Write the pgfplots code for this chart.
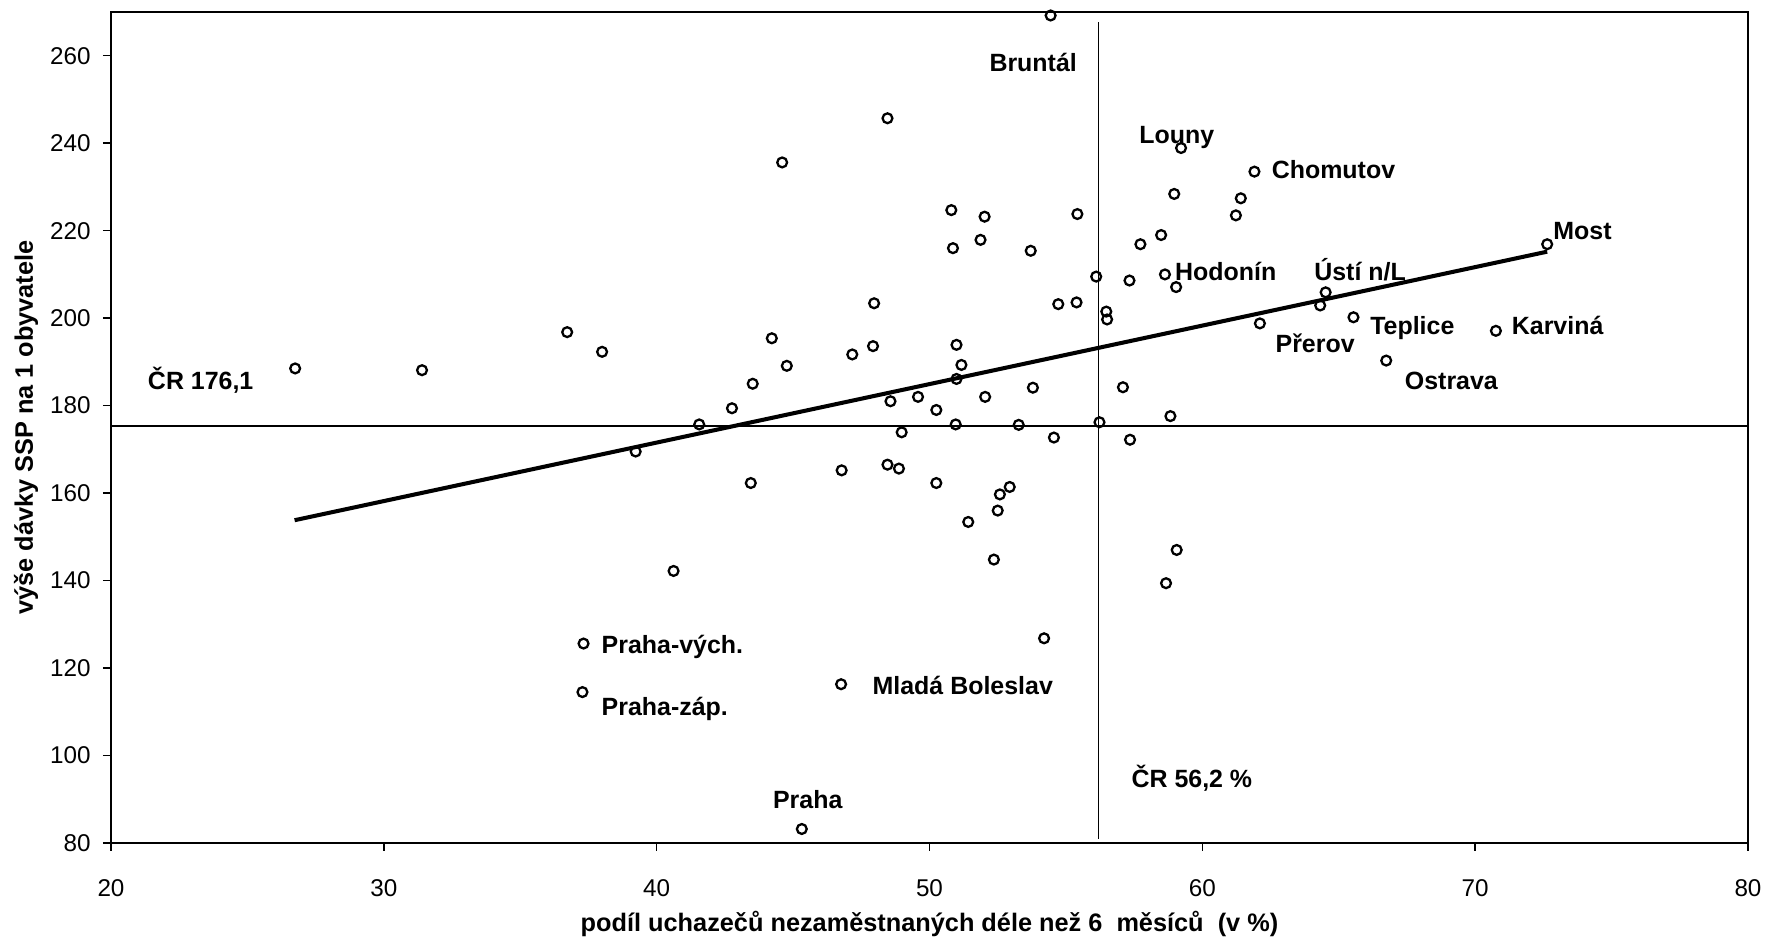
\documentclass[border=0pt]{standalone}
\usepackage{fontspec}
\setmainfont{Liberation Sans}
\usepackage{pgfplots}
\pgfplotsset{compat=1.18}
\usetikzlibrary{calc}

\pgfplotstableread{
x y
26.75 188.5
31.40 188.1
36.72 196.8
38.00 192.3
39.23 169.5
40.62 142.2
41.56 175.7
42.76 179.4
43.52 185.0
43.45 162.3
44.22 195.4
44.77 189.1
44.60 235.6
46.78 165.2
47.17 191.7
47.93 193.6
47.97 203.4
48.46 245.7
48.57 181.0
48.46 166.5
48.88 165.6
48.98 173.9
49.58 182.0
50.25 179.0
50.25 162.3
50.80 224.7
50.86 216.0
50.96 175.7
50.99 186.1
50.99 193.9
51.17 189.3
51.42 153.4
51.87 217.9
52.02 223.2
52.04 182.0
52.36 144.8
52.50 156.0
52.58 159.7
52.94 161.4
53.27 175.6
53.71 215.4
53.79 184.1
54.20 126.8
54.44 269.2
54.56 172.7
54.72 203.2
55.42 223.8
55.39 203.6
56.11 209.5
56.23 176.2
56.48 201.5
56.51 199.7
57.09 184.2
57.33 208.6
57.35 172.2
57.73 216.9
58.49 219.0
58.63 210.0
58.83 177.6
58.67 139.4
58.97 228.4
59.04 207.1
59.06 147.0
59.22 238.9
61.23 223.5
61.41 227.4
61.91 233.5
62.11 198.8
64.32 202.9
64.52 205.9
65.54 200.2
66.74 190.3
70.76 197.1
72.64 216.9
37.32 125.6
37.28 114.5
46.76 116.3
45.32 83.2
}\okresy

\begin{document}
\begin{tikzpicture}
\begin{axis}[
    scale only axis,
    width=163.7mm, height=83.1mm,
    xmin=20, xmax=80, ymin=80, ymax=270,
    xtick={20,30,...,80},
    ytick={80,100,...,260},
    tick pos=left,
    tick align=outside,
    major tick length=0.8mm,
    axis line style={line width=0.65pt},
    every tick/.style={black, line width=0.4pt},
    clip=false,
    /pgf/number format/assume math mode=true,
    ticklabel style={font=\fontsize{6.9}{8}\selectfont},
    xticklabel style={yshift=-1.6mm},
    xlabel={podíl uchazečů nezaměstnaných déle než 6\ \ měsíců\ \ (v \%)},
    ylabel={výše dávky SSP na 1 obyvatele},
    label style={font=\fontsize{7.2}{8}\selectfont\bfseries},
    xlabel style={at={(axis description cs:0.5,0)}, anchor=center, yshift=-8.1mm},
    ylabel style={at={(axis description cs:0,0.5)}, anchor=center, yshift=8.5mm},
    nodes={font=\fontsize{7.1}{8}\selectfont\bfseries},
  ]
  % průměr ČR
  \addplot[black, line width=0.45pt] coordinates {(20,175.3) (80,175.3)};
  \addplot[black, line width=0.45pt] coordinates {(56.2,81) (56.2,267.8)};
  % regresní přímka
  \addplot[black, line width=1.15pt] coordinates {(26.73,153.8) (72.64,215.2)};
  % okresy
  \addplot[only marks, mark=o, mark size=1.4pt, mark options={line width=0.65pt, black}] table {\okresy};

  \node[anchor=center] at (axis cs:53.8,258.5) {Bruntál};
  \node[anchor=base west, inner sep=0pt] at (axis cs:57.67,239.9) {Louny};
  \node[anchor=base west, inner sep=0pt] at (axis cs:62.52,232.0) {Chomutov};
  \node[anchor=base west, inner sep=0pt] at (axis cs:58.98,208.5) {Hodonín};
  \node[anchor=base west, inner sep=0pt] at (axis cs:64.08,208.5) {Ústí n/L};
  \node[anchor=base west, inner sep=0pt] at (axis cs:72.84,217.9) {Most};
  \node[anchor=base west, inner sep=0pt] at (axis cs:66.13,196.2) {Teplice};
  \node[anchor=base west, inner sep=0pt] at (axis cs:71.32,196.2) {Karviná};
  \node[anchor=base west, inner sep=0pt] at (axis cs:62.66,192.2) {Přerov};
  \node[anchor=base west, inner sep=0pt] at (axis cs:67.40,183.6) {Ostrava};
  \node[anchor=base west, inner sep=0pt] at (axis cs:21.33,183.6) {ČR 176,1};
  \node[anchor=base west, inner sep=0pt] at (axis cs:37.96,123.3) {Praha-vých.};
  \node[anchor=base west, inner sep=0pt] at (axis cs:37.96,109.2) {Praha-záp.};
  \node[anchor=base west, inner sep=0pt] at (axis cs:47.89,113.9) {Mladá Boleslav};
  \node[anchor=base west, inner sep=0pt] at (axis cs:57.38,92.7) {ČR 56,2 \%};
  \node[anchor=base west, inner sep=0pt] at (axis cs:44.24,87.8) {Praha};
\end{axis}
\pgfresetboundingbox
\useasboundingbox ($(current axis.south west)+(-11.1mm,-9.6mm)$) rectangle ($(current axis.north east)+(1.9mm,1.2mm)$);
\end{tikzpicture}
\end{document}
